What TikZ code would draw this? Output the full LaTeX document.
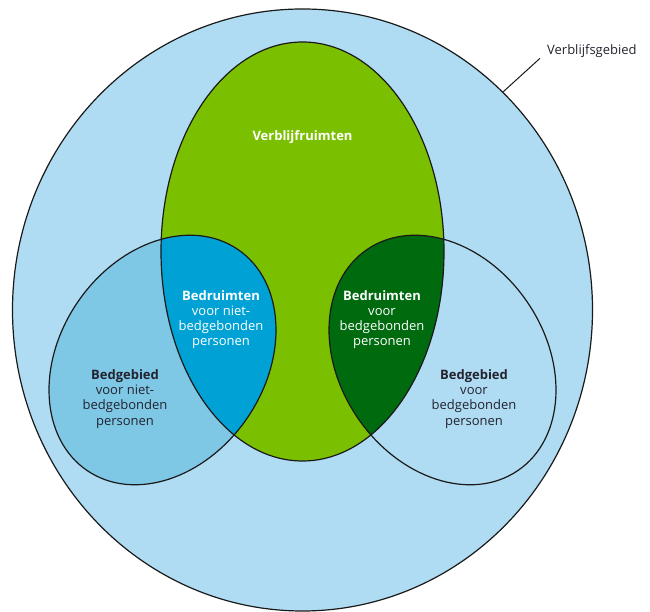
\documentclass[tikz,border=0pt]{standalone}
\usepackage{fontspec}
\setmainfont{Open Sans}
\definecolor{outerblue}{HTML}{AFDCF2}
\definecolor{midblue}{HTML}{7EC8E6}
\definecolor{lensblue}{HTML}{00A2D6}
\definecolor{leafgreen}{HTML}{7BC000}
\definecolor{darkgreen}{HTML}{006A0F}
\definecolor{inkline}{HTML}{1A1A1A}
\definecolor{inktext}{HTML}{23232F}
\tikzset{
  outline/.style={draw=inkline, line width=1.2pt},
  lighttxt/.style={text=white, align=center, font=\fontsize{13}{15.2}\selectfont, inner sep=0pt},
  darktxt/.style={text=inktext, align=center, font=\fontsize{13}{15.2}\selectfont, inner sep=0pt},
}
\begin{document}
\begin{tikzpicture}[x=1pt,y=1pt]
\useasboundingbox (0,0) rectangle (650,612);
% outer area
\fill[outerblue] (302.5,302) ellipse [x radius=290, y radius=301];
% left bedgebied
\fill[midblue, rotate around={55.7:(162.5,252)}] (162.5,252) ellipse [x radius=133.8, y radius=102.7];
% right bedgebied
\fill[outerblue, rotate around={-55.7:(442.5,252)}] (442.5,252) ellipse [x radius=133.8, y radius=102.7];
% verblijfruimten
\fill[leafgreen] (302.5,360.5) ellipse [x radius=141.5, y radius=209.5];
% lenses
\begin{scope}
  \clip (302.5,360.5) ellipse [x radius=141.5, y radius=209.5];
  \fill[lensblue, rotate around={55.7:(162.5,252)}] (162.5,252) ellipse [x radius=133.8, y radius=102.7];
  \fill[darkgreen, rotate around={-55.7:(442.5,252)}] (442.5,252) ellipse [x radius=133.8, y radius=102.7];
\end{scope}
% outlines
\draw[outline] (302.5,302) ellipse [x radius=290, y radius=301];
\draw[outline, rotate around={55.7:(162.5,252)}] (162.5,252) ellipse [x radius=133.8, y radius=102.7];
\draw[outline, rotate around={-55.7:(442.5,252)}] (442.5,252) ellipse [x radius=133.8, y radius=102.7];
\draw[outline] (302.5,360.5) ellipse [x radius=141.5, y radius=209.5];
% labels
\node[lighttxt] (verblijf) at (302.5,474.5) {\textbf{Verblijfruimten}};
\node[lighttxt] (bedrniet) at (221,292.5) {\textbf{Bedruimten}\\voor niet-\\bedgebonden\\personen};
\node[lighttxt] (bedrbed) at (382,292.5) {\textbf{Bedruimten}\\voor\\bedgebonden\\personen};
\node[darktxt] (bedgniet) at (125,213) {\textbf{Bedgebied}\\voor niet-\\bedgebonden\\personen};
\node[darktxt] (bedgbed) at (474,213) {\textbf{Bedgebied}\\voor\\bedgebonden\\personen};
\node[darktxt, anchor=west] (gebied) at (547,560.5) {Verblijfsgebied};
\coordinate (rim) at (503.3,520.3);
\coordinate (tick) at (540,553.7);
\draw[draw=inkline, line width=1pt] (rim) -- (tick);
\end{tikzpicture}
\end{document}
